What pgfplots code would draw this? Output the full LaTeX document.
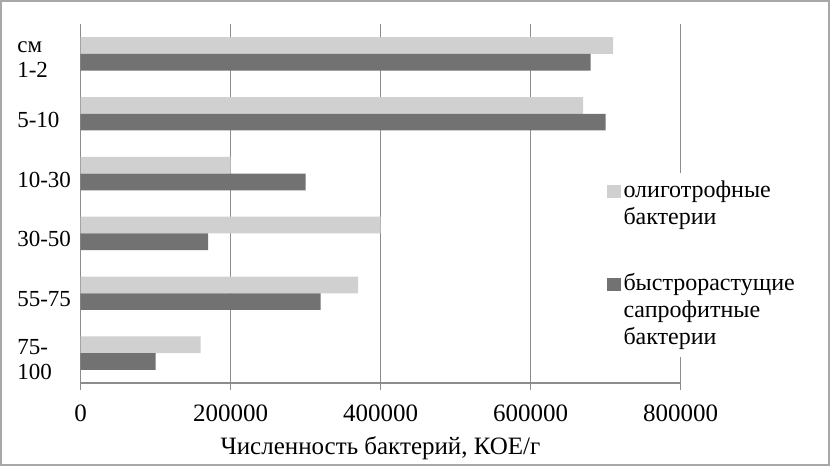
\documentclass[border=0pt]{standalone}
\usepackage{fontspec}
\setmainfont{Liberation Serif}
\usepackage{pgfplots}
\pgfplotsset{compat=1.18}
\definecolor{lightbar}{HTML}{D0D0D0}
\definecolor{darkbar}{HTML}{727272}
\definecolor{gridc}{HTML}{8C8C8C}
\definecolor{framec}{HTML}{A8A8A8}
\newcommand{\lines}[1]{\begin{tabular}[t]{@{}l@{}}#1\end{tabular}}
\begin{document}
\begin{tikzpicture}
% page = frame, 1px = 0.5pt
\useasboundingbox (-40.25pt,-41.5pt) rectangle (374.75pt,191.5pt);
\draw[framec, line width=0.8pt] (-39.75pt,-41pt) rectangle (374.25pt,191pt);
\begin{axis}[
  at={(0,0)}, anchor=south west,
  scale only axis,
  width=300pt, height=179.5pt,
  xbar=0pt,
  bar width=8.35pt,
  xmin=0, xmax=800000,
  ymin=-0.5, ymax=5.5,
  y dir=reverse,
  xtick={0,200000,400000,600000,800000},
  scaled x ticks=false,
  /pgf/number format/.cd, fixed, 1000 sep={}, assume math mode=true,
  /pgfplots/.cd,
  ytick={0,1,2,3,4,5},
  yticklabels={{см\\1-2},{5-10},{10-30},{30-50},{55-75},{75-\\100}},
  yticklabel style={font=\fontsize{11.5}{12.5}\selectfont, align=left, text width=32pt,
    anchor=west, inner sep=0pt, xshift=-28.5pt, yshift=-3pt},
  ytick style={draw=none},
  xticklabel style={font=\fontsize{12.5}{14}\selectfont, anchor=base, inner sep=0pt, yshift=-16pt},
  tick align=outside,
  major tick length=3.3pt,
  xtick style={gridc, line width=0.6pt},
  xmajorgrids,
  grid style={gridc, line width=0.6pt},
  axis x line*=bottom,
  axis y line*=left,
  axis line style={gridc, line width=0.6pt, -},
  xlabel={Численность бактерий, КОЕ/г},
  xlabel style={font=\fontsize{12.5}{14}\selectfont, at={(axis description cs:0.5,0)},
    anchor=base, yshift=-35.5pt, inner sep=0pt},
  legend style={at={(0.866,0.586)}, anchor=north west, draw=none, fill=white,
    font=\fontsize{12}{13.5}\selectfont, row sep=5pt,
    cells={anchor=base west}, nodes={inner sep=1pt, inner xsep=1.5pt, text depth=30pt}},
  legend image code/.code={\fill[#1, draw=none] (0pt,0pt) rectangle (7pt,6.5pt);},
]
\addplot[fill=lightbar, draw=none, bar shift=4.175pt] coordinates {
  (710000,0) (670000,1) (200000,2) (400000,3) (370000,4) (160000,5)
};
\addplot[fill=darkbar, draw=none, bar shift=-4.175pt] coordinates {
  (680000,0) (700000,1) (300000,2) (170000,3) (320000,4) (100000,5)
};
\legend{{\lines{олиготрофные\\бактерии}},{\lines{быстрорастущие\\сапрофитные\\бактерии}}}
\end{axis}
\end{tikzpicture}
\end{document}
